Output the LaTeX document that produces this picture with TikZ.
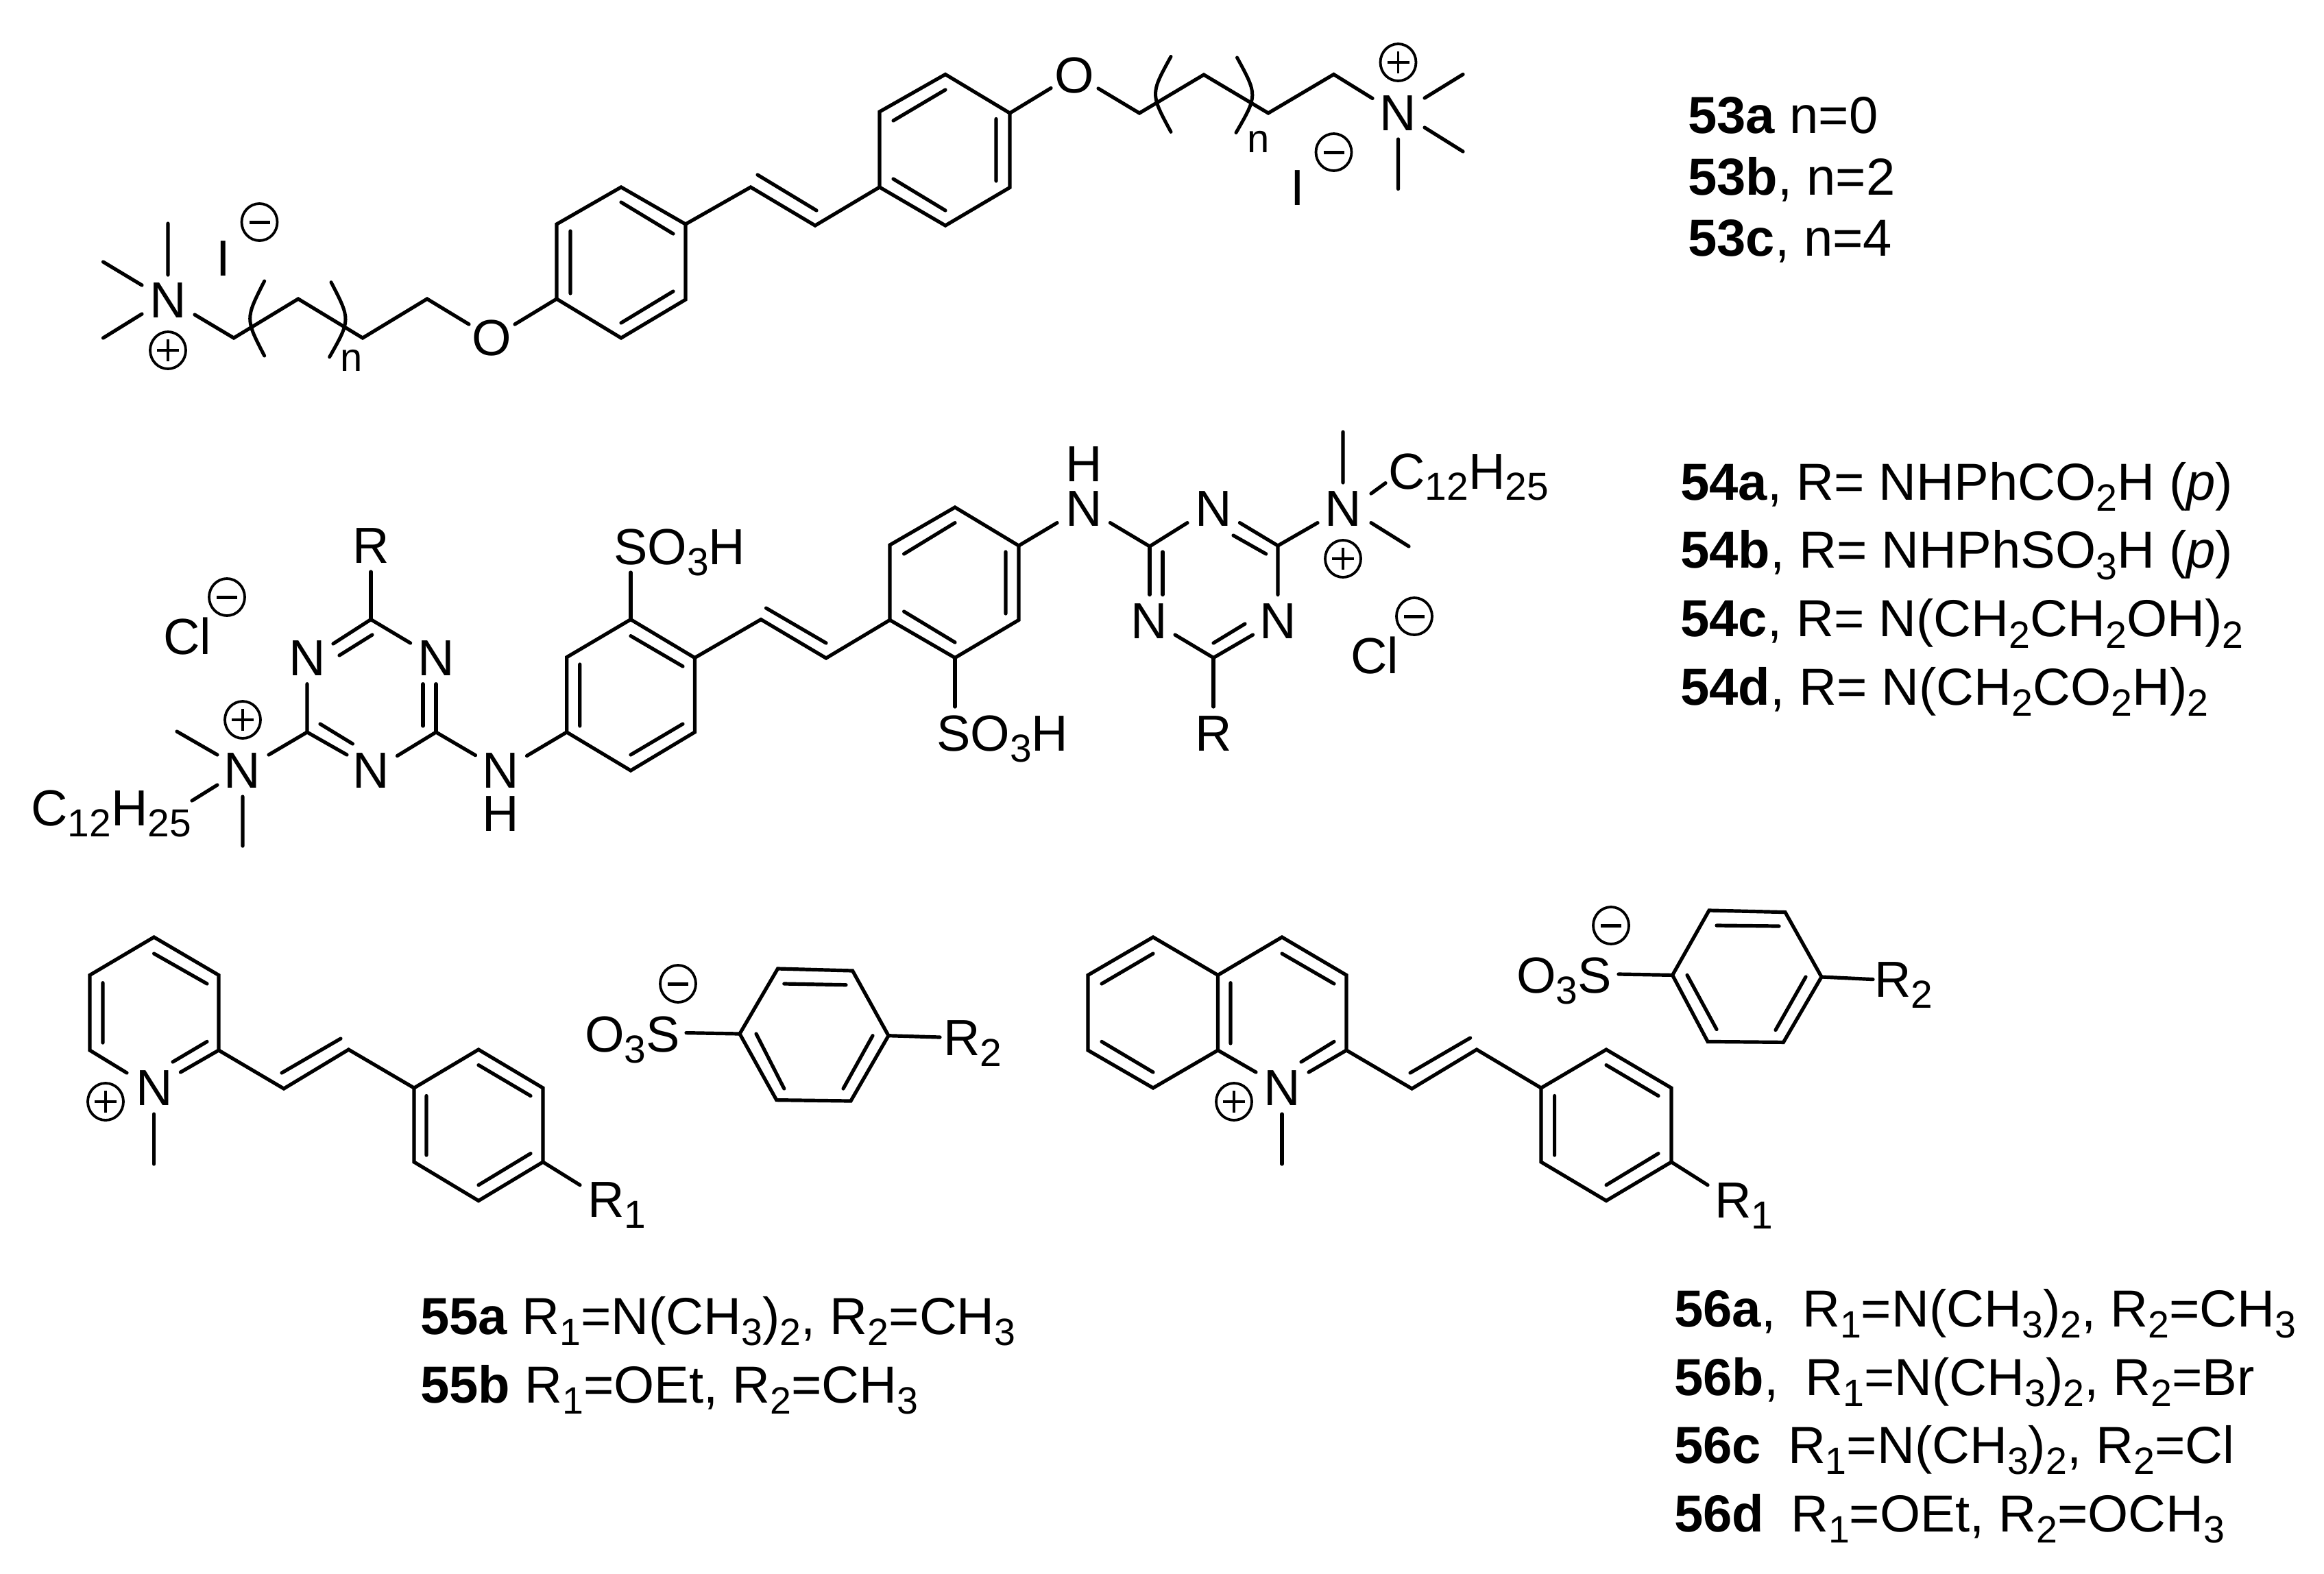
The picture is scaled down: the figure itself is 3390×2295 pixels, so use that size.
\documentclass[tikz,border=0pt]{standalone}
\usepackage{fontspec}
\usepackage{graphicx}
\setmainfont{Liberation Sans}
\newcommand\sbs[1]{\raisebox{-0.22em}{\scalebox{0.73}{#1}}}
\newcommand\sbc[1]{\raisebox{-0.22em}{\scalebox{0.77}{#1}}}
\tikzset{
  bond/.style={line width=5.2pt,line cap=round,line join=miter,black},
  brk/.style={line width=5pt,line cap=round,black},
  chem/.style={inner sep=0pt,font=\fontsize{74}{80}\selectfont},
  atom/.style={chem,anchor=base},
  grp/.style={chem,anchor=base west},
  idx/.style={inner sep=0pt,anchor=base,font=\fontsize{58}{60}\selectfont},
  lab/.style={inner sep=0pt,anchor=base west,font=\fontsize{76}{80}\selectfont},
  cplus/.pic={\draw[line width=3.8pt] (0,0) ellipse [x radius=26,y radius=27];
              \draw[line width=3.8pt] (-16,0) -- (16,0) (0,-16) -- (0,16);},
  cminus/.pic={\draw[line width=3.8pt] (0,0) ellipse [x radius=26,y radius=27];
               \draw[line width=5pt] (-15,0) -- (15,0);}
}
\begin{document}
\begin{tikzpicture}[x=1pt,y=-1pt]
\useasboundingbox (0,0) rectangle (3390,2295);
\fill[white] (0,0) rectangle (3390,2295);

%% 53
\node[atom] (a1) at (245,463.5) {N};
\node[atom] (a2) at (717,518.5) {O};
\node[atom] (a3) at (1567,135.5) {O};
\node[atom] (a4) at (2039.5,190.5) {N};
\node[atom] (a5) at (326,402) {I};
\node[atom] (a6) at (1893,299.5) {I};
\node[idx] (a7) at (512.5,541.5) {n};
\node[idx] (a8) at (1836,222) {n};
\pic at (245,511) {cplus};
\pic at (378.5,324) {cminus};
\pic at (2039.5,91) {cplus};
\pic at (1945.5,222) {cminus};
\draw[bond] (245,326) -- (245,401) (150.5,382) -- (207,416) (150.5,493) -- (207,458);
\draw[bond] (284,459) -- (341,493) -- (435,436) -- (529,493) -- (623,436) -- (684,473);
\draw[bond] (751,473) -- (812,436);
\draw[bond] (812,436) -- (812,327) -- (906,273) -- (1000,327) -- (1000,437) -- (906,493) -- cycle;
\draw[bond] (832,337) -- (832,428) (906,295) -- (982,341) (906,471) -- (982,425);
\draw[bond] (1000,327) -- (1095,273) -- (1189,329) -- (1283,273);
\draw[bond] (1105,255) -- (1191,307);
\draw[bond] (1283,273) -- (1283,163) -- (1379,108.5) -- (1473,165) -- (1473,273.5) -- (1379,329) -- cycle;
\draw[bond] (1453,173.5) -- (1453,264) (1303,176) -- (1379,131) (1303,261) -- (1379,307);
\draw[bond] (1473,165) -- (1533,128.5);
\draw[bond] (1602,129) -- (1662,165) -- (1756,109) -- (1850,165) -- (1945.5,108.5) -- (2002,143.5);
\draw[bond] (2078,143) -- (2134,108.5) (2078,186) -- (2134,221) (2039.5,203) -- (2039.5,275.6);
\draw[brk] (385.7,410) .. controls (357.7,465) .. (385.7,519);
\draw[brk] (483,411.7) .. controls (511.4,466.5) .. (480.7,520.7);
\draw[brk] (1708,82.5) .. controls (1678,137) .. (1708,192.4);
\draw[brk] (1804.5,84) .. controls (1834.5,139) .. (1803,193.5);

%% 54 left
\node[atom] (b1) at (541,821.5) {R};
\node[atom] (b2) at (448,985.5) {N};
\node[atom] (b3) at (636,985.5) {N};
\node[atom] (b4) at (541,1149) {N};
\node[atom] (b5) at (730,1149) {N};
\node[atom] (b6) at (730,1212) {H};
\node[atom] (b7) at (353,1149) {N};
\node[grp] (b8) at (895,823) {SO\sbc{3}H};
\node[grp] (b9) at (45,1204) {C\sbc{12}H\sbc{25}};
\node[grp] (b10) at (238,954) {Cl};
\pic at (354,1050) {cplus};
\pic at (331,871) {cminus};
\draw[bond] (541,834) -- (541,903.6);
\draw[bond] (486,939) -- (541,903.6) -- (598.6,938) (543,926) -- (495,956);
\draw[bond] (448,997.7) -- (448,1068) -- (506,1101) (467,1056) -- (514.4,1085);
\draw[bond] (636,997.7) -- (636,1068) (617,997.7) -- (617,1059);
\draw[bond] (579.5,1102.5) -- (636,1068) -- (693.5,1101.7);
\draw[bond] (392,1101) -- (448,1068);
\draw[bond] (317,1101) -- (258,1067) (317,1145) -- (280,1168) (354,1162) -- (354,1234);
\draw[bond] (768.5,1102.5) -- (826.7,1068);
\draw[bond] (826.7,1068) -- (826.7,958.7) -- (920,903.6) -- (1013.4,959.5) -- (1013.4,1068) -- (920,1124) -- cycle;
\draw[bond] (845.8,969) -- (845.8,1059) (920,927.6) -- (996,972) (920,1101) -- (996,1056);
\draw[bond] (920,835) -- (920,903.6);
\draw[bond] (1013.4,959.5) -- (1110,903.6) -- (1205,960) -- (1298,904.4);
\draw[bond] (1117.5,887) -- (1205,938);

%% 54 right
\node[atom] (c1) at (1581,767.5) {N};
\node[atom] (c2) at (1581,702.9) {H};
\node[atom] (c3) at (1770,767.5) {N};
\node[atom] (c4) at (1864,931.5) {N};
\node[atom] (c5) at (1676,931.5) {N};
\node[atom] (c6) at (1770,1095) {R};
\node[atom] (c7) at (1959,767.5) {N};
\node[grp] (c8) at (1366,1095) {SO\sbc{3}H};
\node[grp] (c9) at (2025,713) {C\sbc{12}H\sbc{25}};
\node[grp] (c10) at (1970,982) {Cl};
\pic at (1959,815) {cplus};
\pic at (2063,899) {cminus};
\draw[bond] (1298,904.4) -- (1298,795) -- (1393,740) -- (1486,796) -- (1486,904.4) -- (1393,959.5) -- cycle;
\draw[bond] (1467,805) -- (1467,895) (1393,762.6) -- (1318.6,808) (1318.6,892) -- (1393,937);
\draw[bond] (1393,959.5) -- (1393,1031);
\draw[bond] (1486,796) -- (1542,762.6);
\draw[bond] (1619.4,762.6) -- (1677,797) -- (1732,762.6);
\draw[bond] (1677,797) -- (1677,867.5) (1696,805) -- (1696,867.5);
\draw[bond] (1808.4,762.6) -- (1864,796) -- (1864,867.5) (1799,781) -- (1846.7,808);
\draw[bond] (1827.5,926) -- (1770,959.5) -- (1714,926) (1816,910) -- (1770,938);
\draw[bond] (1770,959.5) -- (1770,1031);
\draw[bond] (1864,796) -- (1922,762.6);
\draw[bond] (1959,630) -- (1959,704) (2000,720) -- (2021,704.6) (2000,762.6) -- (2055,797);

%% 55
\node[atom] (d1) at (225,1612) {N};
\node[grp] (d2) at (857,1775.5) {R\sbc{1}};
\node[grp] (d3) at (853,1534) {O\sbc{3}S};
\node[grp] (d4) at (1376,1539) {R\sbc{2}};
\pic at (154,1607) {cplus};
\pic at (989,1435) {cminus};
\draw[bond] (185,1565) -- (131,1532) -- (131,1422.4) -- (224.6,1367) -- (319,1422.4) -- (319,1532) -- (263.4,1564);
\draw[bond] (302,1519.4) -- (252,1549) (150,1433.7) -- (150,1521) (224.6,1391) -- (302,1435);
\draw[bond] (224.6,1625) -- (224.6,1698);
\draw[bond] (319,1532) -- (414,1588) -- (508.5,1531) -- (604,1587) (411,1565) -- (497,1515);
\draw[bond] (604,1587) -- (698,1531) -- (792,1587) -- (792,1695) -- (698,1751.5) -- (604,1695) -- cycle;
\draw[bond] (622,1598.5) -- (622,1685) (698,1553.6) -- (774,1598.5) (698,1728.6) -- (774,1682.6);
\draw[bond] (792,1695) -- (846,1728.6);
\draw[bond] (1001,1506.6) -- (1079,1508);
\draw[bond] (1079,1508) -- (1134.5,1413) -- (1243.6,1416) -- (1296,1510.7) -- (1241,1606) -- (1132.7,1604.6) -- cycle;
\draw[bond] (1143.8,1435) -- (1234,1436.7) (1103,1508) -- (1143.8,1588) (1273,1510.7) -- (1230,1588);
\draw[bond] (1296,1510.7) -- (1371,1513);

%% 56
\node[atom] (e1) at (1870,1612) {N};
\node[grp] (e2) at (2501,1776.5) {R\sbc{1}};
\node[grp] (e3) at (2212,1448) {O\sbc{3}S};
\node[grp] (e4) at (2734,1454) {R\sbc{2}};
\pic at (1800,1607) {cplus};
\pic at (2350,1350) {cminus};
\draw[bond] (1682,1367) -- (1776.5,1422.4) -- (1776.5,1532) -- (1682,1587) -- (1587,1532) -- (1587,1422.4) -- cycle;
\draw[bond] (1682,1391) -- (1607,1435) (1607,1519.4) -- (1682,1564) (1795,1433.7) -- (1795,1522);
\draw[bond] (1776.5,1422.4) -- (1870,1367) -- (1964,1422.4) -- (1964,1532) -- (1909,1564);
\draw[bond] (1776.5,1532) -- (1832,1564);
\draw[bond] (1870,1391) -- (1946,1435) (1946,1519.4) -- (1898,1549);
\draw[bond] (1870,1625) -- (1870,1698);
\draw[bond] (1964,1532) -- (2059.5,1588) -- (2154,1531) -- (2248,1587) (2057,1565) -- (2144.6,1514);
\draw[bond] (2248,1587) -- (2343,1531) -- (2438,1587) -- (2438,1695) -- (2343,1751.5) -- (2248,1695) -- cycle;
\draw[bond] (2267.6,1598.5) -- (2267.6,1685) (2343,1553.6) -- (2419,1598.5) (2343,1728.6) -- (2419,1682.6);
\draw[bond] (2438,1695) -- (2491,1728.6);
\draw[bond] (2361,1421) -- (2439.6,1422.4);
\draw[bond] (2439.6,1422.4) -- (2493,1328) -- (2604,1330.6) -- (2657,1425) -- (2601.4,1520.4) -- (2491,1519.4) -- cycle;
\draw[bond] (2504,1350) -- (2595,1351) (2461,1422.4) -- (2504,1501.5) (2634,1425) -- (2590,1502.5);
\draw[bond] (2657,1425) -- (2732,1428.6);

%% labels
\node[lab] (l1) at (2462,194) {\textbf{53a} n=0};
\node[lab] (l2) at (2462,284) {\textbf{53b}, n=2};
\node[lab] (l3) at (2462,373) {\textbf{53c}, n=4};
\node[lab] (l4) at (2451,729) {\textbf{54a}, R= NHPhCO\sbs{2}H (\textit{p})};
\node[lab] (l5) at (2451,828.5) {\textbf{54b}, R= NHPhSO\sbs{3}H (\textit{p})};
\node[lab] (l6) at (2451,928.5) {\textbf{54c}, R= N(CH\sbs{2}CH\sbs{2}OH)\sbs{2}};
\node[lab] (l7) at (2451,1028) {\textbf{54d}, R= N(CH\sbs{2}CO\sbs{2}H)\sbs{2}};
\node[lab] (l8) at (613,1946) {\textbf{55a} R\sbs{1}=N(CH\sbs{3})\sbs{2}, R\sbs{2}=CH\sbs{3}};
\node[lab] (l9) at (613,2046) {\textbf{55b} R\sbs{1}=OEt, R\sbs{2}=CH\sbs{3}};
\node[lab] (l10) at (2442,1935) {\textbf{56a},\hspace{39pt}R\sbs{1}=N(CH\sbs{3})\sbs{2}, R\sbs{2}=CH\sbs{3}};
\node[lab] (l11) at (2442,2035) {\textbf{56b},\hspace{39pt}R\sbs{1}=N(CH\sbs{3})\sbs{2}, R\sbs{2}=Br};
\node[lab] (l12) at (2442,2134) {\textbf{56c}\hspace{39pt}R\sbs{1}=N(CH\sbs{3})\sbs{2}, R\sbs{2}=Cl};
\node[lab] (l13) at (2442,2234) {\textbf{56d}\hspace{39pt}R\sbs{1}=OEt, R\sbs{2}=OCH\sbs{3}};
\end{tikzpicture}
\end{document}
